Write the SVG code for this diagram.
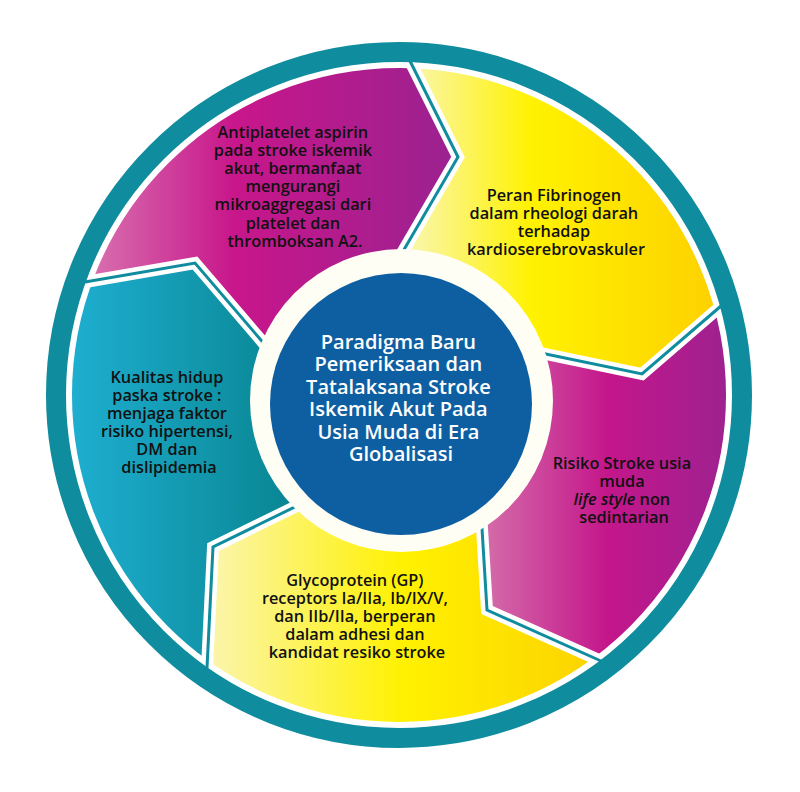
<svg xmlns="http://www.w3.org/2000/svg" width="800" height="792" viewBox="0 0 800 792">
<defs>
<linearGradient id="gMagT" gradientUnits="userSpaceOnUse" x1="85" y1="0" x2="458" y2="0">
<stop offset="0" stop-color="#d874b0"/><stop offset="0.4" stop-color="#c8168b"/><stop offset="1" stop-color="#9a2290"/>
</linearGradient>
<linearGradient id="gYelTR" gradientUnits="userSpaceOnUse" x1="406" y1="0" x2="721" y2="0">
<stop offset="0" stop-color="#faf6b4"/><stop offset="0.4" stop-color="#fff200"/><stop offset="1" stop-color="#fdd000"/>
</linearGradient>
<linearGradient id="gMagR" gradientUnits="userSpaceOnUse" x1="482" y1="0" x2="733" y2="0">
<stop offset="0" stop-color="#d46eaa"/><stop offset="0.5" stop-color="#c4168b"/><stop offset="1" stop-color="#9c2290"/>
</linearGradient>
<linearGradient id="gYelB" gradientUnits="userSpaceOnUse" x1="207" y1="0" x2="601" y2="0">
<stop offset="0" stop-color="#fbf5b0"/><stop offset="0.5" stop-color="#fff100"/><stop offset="1" stop-color="#fcd200"/>
</linearGradient>
<linearGradient id="gTealL" gradientUnits="userSpaceOnUse" x1="72" y1="0" x2="307" y2="0">
<stop offset="0" stop-color="#1eaed0"/><stop offset="1" stop-color="#07838e"/>
</linearGradient>
</defs>
<style>
.txt{font-family:"Open Sans","Noto Sans","DejaVu Sans",sans-serif;font-weight:600;font-size:16.3px;fill:#111;text-anchor:middle}
.ctr{font-family:"Open Sans","Noto Sans","DejaVu Sans",sans-serif;font-weight:600;font-size:20px;fill:#ffffff;text-anchor:middle}
.gapw{fill:none;stroke:#ffffff;stroke-width:12;stroke-linejoin:miter;stroke-miterlimit:10}
.gapt{fill:none;stroke:#0f8c9e;stroke-width:3;stroke-linejoin:miter;stroke-miterlimit:10}
</style>
<rect width="800" height="792" fill="#ffffff"/>

<g id="seg-antiplatelet">
<path d="M85,282 A334,334 0 0 1 410,61 L458,157 L402,253 L401,400 L266,346 L195,263 Z" fill="url(#gMagT)"/>
</g>
<g id="seg-fibrinogen">
<path d="M410,61 A334,334 0 0 1 721,306 L642,374 L536,352 L401,400 L402,253 L458,157 Z" fill="url(#gYelTR)"/>
</g>
<g id="seg-risiko">
<path d="M721,306 A334,334 0 0 1 601,661 L487,610 L481,512 L401,400 L536,352 L642,374 Z" fill="url(#gMagR)"/>
</g>
<g id="seg-glycoprotein">
<path d="M601,661 A334,334 0 0 1 207,668 L213,547 L307,501 L401,400 L481,512 L487,610 Z" fill="url(#gYelB)"/>
</g>
<g id="seg-kualitas">
<path d="M207,668 A334,334 0 0 1 85,282 L195,263 L266,346 L401,400 L307,501 L213,547 Z" fill="url(#gTealL)"/>
</g>

<circle cx="399" cy="395" r="330.5" fill="none" stroke="#ffffff" stroke-width="7"/>

<g id="connectors">
<polyline class="gapw" points="410,61 458,157 402,253"/>
<polyline class="gapw" points="721,306 642,374 536,352"/>
<polyline class="gapw" points="601,661 487,610 481,512"/>
<polyline class="gapw" points="207,668 213,547 307,501"/>
<polyline class="gapw" points="85,282 195,263 266,346"/>
<polyline class="gapt" points="410,61 458,157 402,253"/>
<polyline class="gapt" points="721,306 642,374 536,352"/>
<polyline class="gapt" points="601,661 487,610 481,512"/>
<polyline class="gapt" points="207,668 213,547 307,501"/>
<polyline class="gapt" points="85,282 195,263 266,346"/>
</g>

<g id="outer-ring">
<circle cx="399" cy="395" r="343" fill="none" stroke="#0f8c9e" stroke-width="20"/>
</g>

<g id="center">
<circle cx="401.5" cy="400.5" r="151.5" fill="#fffef5"/>
<circle cx="401" cy="404" r="131" fill="#0e5fa2"/>
<text class="ctr">
<tspan x="401" y="349">Paradigma Baru</tspan>
<tspan x="401" y="371.4">Pemeriksaan dan</tspan>
<tspan x="401" y="393.8">Tatalaksana Stroke</tspan>
<tspan x="401" y="416.2">Iskemik Akut Pada</tspan>
<tspan x="401" y="438.6">Usia Muda di Era</tspan>
<tspan x="401" y="461">Globalisasi</tspan>
</text>
</g>

<g id="label-antiplatelet">
<text class="txt">
<tspan x="295" y="138">Antiplatelet aspirin</tspan>
<tspan x="295" y="156.1">pada stroke iskemik</tspan>
<tspan x="295" y="174.2">akut, bermanfaat</tspan>
<tspan x="295" y="192.3">mengurangi</tspan>
<tspan x="295" y="210.4">mikroaggregasi dari</tspan>
<tspan x="295" y="228.5">platelet dan</tspan>
<tspan x="295" y="246.6">thromboksan A2.</tspan>
</text>
</g>
<g id="label-fibrinogen">
<text class="txt">
<tspan x="556" y="201">Peran Fibrinogen</tspan>
<tspan x="556" y="219">dalam rheologi darah</tspan>
<tspan x="556" y="237">terhadap</tspan>
<tspan x="556" y="255">kardioserebrovaskuler</tspan>
</text>
</g>
<g id="label-risiko">
<text class="txt">
<tspan x="624" y="469">Risiko Stroke usia</tspan>
<tspan x="624" y="487">muda</tspan>
<tspan x="624" y="505"><tspan font-style="italic">life style</tspan> non</tspan>
<tspan x="624" y="523">sedintarian</tspan>
</text>
</g>
<g id="label-glycoprotein">
<text class="txt">
<tspan x="357" y="586">Glycoprotein (GP)</tspan>
<tspan x="357" y="604">receptors Ia/IIa, Ib/IX/V,</tspan>
<tspan x="357" y="622">dan IIb/IIa, berperan</tspan>
<tspan x="357" y="640">dalam adhesi dan</tspan>
<tspan x="357" y="658">kandidat resiko stroke</tspan>
</text>
</g>
<g id="label-kualitas">
<text class="txt">
<tspan x="169" y="383">Kualitas hidup</tspan>
<tspan x="169" y="401">paska stroke :</tspan>
<tspan x="169" y="419">menjaga faktor</tspan>
<tspan x="169" y="437">risiko hipertensi,</tspan>
<tspan x="169" y="455">DM dan</tspan>
<tspan x="169" y="473">dislipidemia</tspan>
</text>
</g>
</svg>
